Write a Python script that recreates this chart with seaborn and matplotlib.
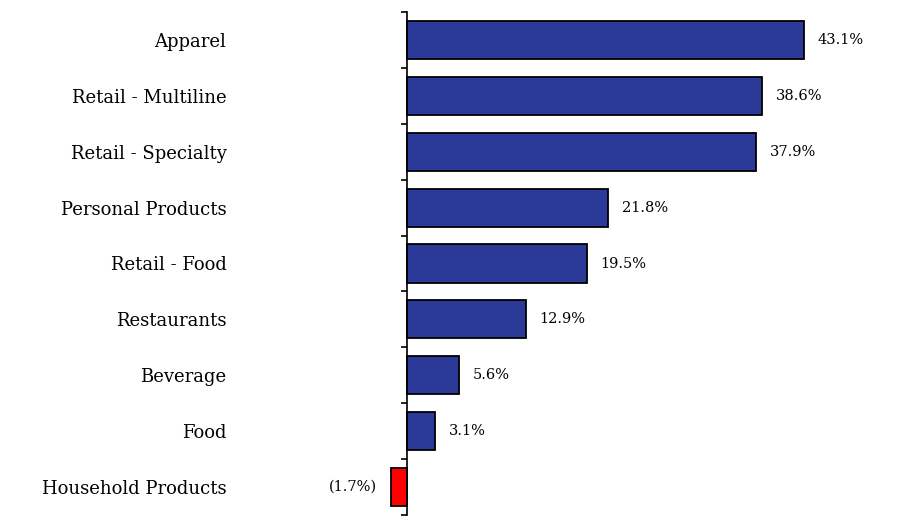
import matplotlib.pyplot as plt
import seaborn as sns
import pandas as pd

categories = ['Apparel', 'Retail - Multiline', 'Retail - Specialty', 'Personal Products',
              'Retail - Food', 'Restaurants', 'Beverage', 'Food', 'Household Products']
values = [43.1, 38.6, 37.9, 21.8, 19.5, 12.9, 5.6, 3.1, -1.7]

blue = '#2B3A98'
red = '#FF0000'
colors = [blue if v >= 0 else red for v in values]

df = pd.DataFrame({'cat': categories, 'val': values})

sns.set_style('white')
plt.rcParams['font.family'] = ['DejaVu Serif']
plt.rcParams['text.color'] = 'black'
plt.rcParams['ytick.color'] = 'black'

fig = plt.figure(figsize=(9.12, 5.2), dpi=100)
ax = fig.add_axes([0.25, 5 / 520, 0.74, (515 - 12) / 520])

sns.barplot(data=df, x='val', y='cat', hue='cat', palette=colors, legend=False,
            orient='h', width=0.68, edgecolor='black', linewidth=1.3, saturation=1, ax=ax)

ax.set_xlim(-19.43, 53.85)
ax.set_ylim(8.5, -0.5)

for s in ['top', 'right', 'bottom']:
    ax.spines[s].set_visible(False)
ax.spines['left'].set_position(('data', 0))
ax.spines['left'].set_color('black')
ax.spines['left'].set_linewidth(1.2)

ax.set_xticks([])
ax.set_xlabel('')
ax.set_ylabel('')
ax.set_yticks(range(len(categories)))
ax.set_yticklabels(categories, fontsize=13, color='black')
ax.set_yticks([i - 0.5 for i in range(len(categories) + 1)], minor=True)
ax.tick_params(axis='y', which='major', length=0, pad=130)
ax.tick_params(axis='y', which='minor', length=4, width=1.2, color='black', direction='out', left=True)

for i, v in enumerate(values):
    if v >= 0:
        ax.text(v + 1.5, i, f'{v:.1f}%', va='center', ha='left', fontsize=10.5, color='black')
    else:
        ax.text(v - 1.6, i, f'({abs(v):.1f}%)', va='center', ha='right', fontsize=10.5, color='black')

plt.savefig('out.png', dpi=100)
